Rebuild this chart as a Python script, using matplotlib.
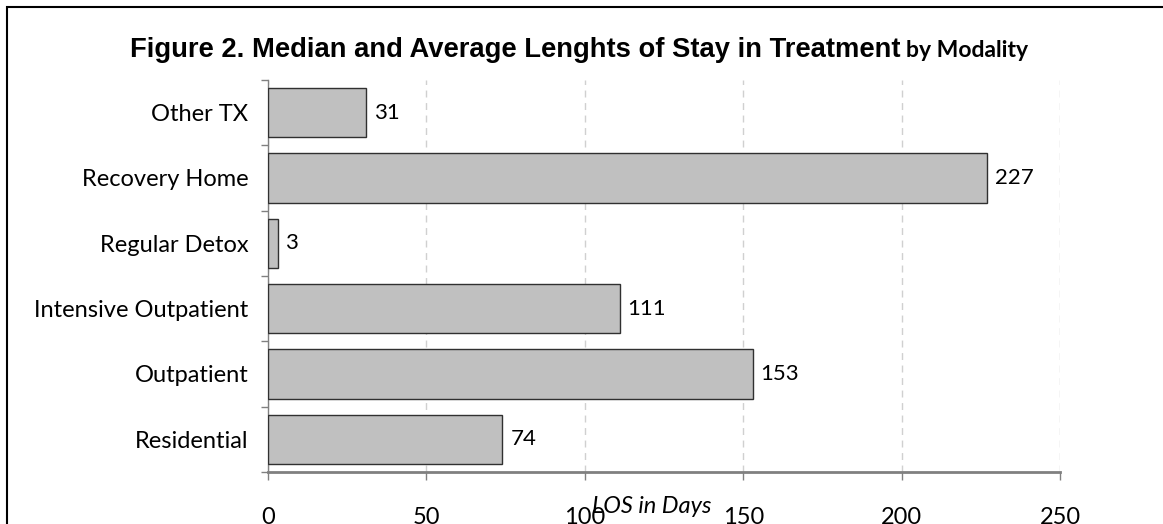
import matplotlib
matplotlib.use("Agg")
import matplotlib.pyplot as plt
from matplotlib.patches import Rectangle

categories = ["Residential", "Outpatient", "Intensive Outpatient", "Regular Detox", "Recovery Home", "Other TX"]
values = [74, 153, 111, 3, 227, 31]
xticks = [0, 50, 100, 150, 200, 250]

FONT = "Lato"

fig = plt.figure(figsize=(11.63, 5.24), dpi=100)
ax = fig.add_axes([268/1163, 1-472/524, (1060-268)/1163, (472-80)/524])

y = list(range(len(categories)))
ax.barh(y, values, height=0.76, color="#C0C0C0", edgecolor="#303030", linewidth=1.0, zorder=3)
for yi, v in zip(y, values):
    ax.text(v + 2.5, yi, str(v), va="center", ha="left", fontsize=16, family=FONT, zorder=4)

ax.set_xlim(0, 250)
ax.set_ylim(-0.5, len(categories) - 0.5)
ax.set_xticks(xticks)
ax.set_xticklabels([str(t) for t in xticks], fontsize=17, family=FONT)
ax.set_yticks(y)
ax.set_yticklabels(categories, fontsize=17, family=FONT)
ax.set_yticks([i - 0.5 for i in range(len(categories) + 1)], minor=True)
ax.tick_params(axis="y", which="major", length=0, pad=14)
ax.tick_params(axis="y", which="minor", length=5, color="#808080", width=1, direction="out")
ax.tick_params(axis="x", which="major", length=6, color="#808080", width=1, direction="out", pad=19)

for s in ["top", "right"]:
    ax.spines[s].set_visible(False)
ax.spines["left"].set_color("#808080")
ax.spines["left"].set_linewidth(1)
ax.spines["bottom"].set_color("#808080")
ax.spines["bottom"].set_linewidth(2)
ax.spines["bottom"].set_zorder(5)

ax.xaxis.grid(True, linestyle=(0, (5, 4)), color="#D0D0D0", linewidth=1)
ax.set_axisbelow(True)

fig.text(652/1163, 1-513/524, "LOS in Days", ha="center", va="baseline", fontsize=17, style="italic", family=FONT)

t1 = fig.text(130/1163, 1-57/524, "Figure 2. Median and Average Lenghts of Stay in Treatment",
              ha="left", va="baseline", fontsize=19.7, weight="bold", family="Liberation Sans")
fig.canvas.draw()
bb = t1.get_window_extent()
fig.text((bb.x1 + 6)/1163, 1-57/524, "by Modality", ha="left", va="baseline", fontsize=16.5, weight="bold", family=FONT)

fig.patches.append(Rectangle((7/1163, -0.1), 1.2, 1-7/524 + 0.1, transform=fig.transFigure,
                             fill=False, edgecolor="black", linewidth=1.5))

fig.savefig("out.png", dpi=100)
